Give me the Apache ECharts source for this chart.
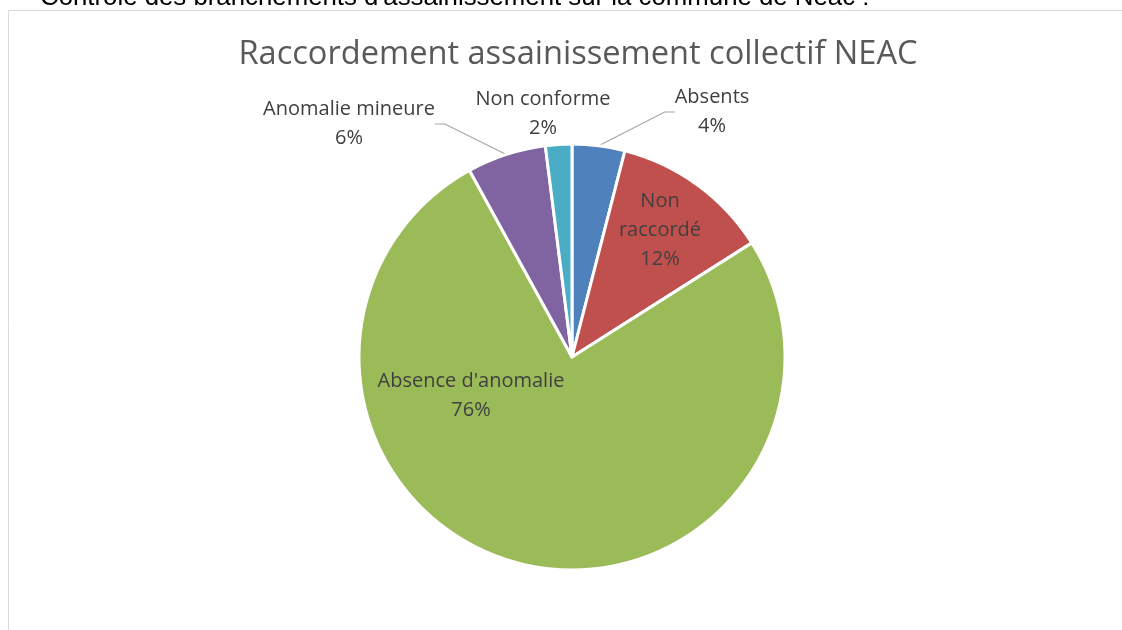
<!DOCTYPE html>
<html>
<head>
<meta charset="utf-8">
<script src="https://cdn.jsdelivr.net/npm/echarts@6/dist/echarts.min.js"></script>
<style>
  html, body { margin: 0; padding: 0; background: #fff; }
  #chart { width: 1122px; height: 630px; }
</style>
</head>
<body>
<div id="chart"></div>
<script>
  // données du graphique (pourcentages)
  const categories = ['Absents', 'Non raccordé', "Absence d'anomalie", 'Anomalie mineure', 'Non conforme']
  const values = [4, 12, 76, 6, 2]
  const colors = ['#4F81BD', '#C0504D', '#9BBB59', '#8064A2', '#4BACC6']

  // où poser chaque étiquette (centre du bloc de texte)
  const labelSpots = [
    [712, 112],
    [660, 230],
    [471, 396],
    [349, 124],
    [543, 114]
  ]
  const outside = [true, false, false, true, true]

  const chart = echarts.init(document.getElementById('chart'))

  chart.setOption({
    backgroundColor: '#fff',
    animation: false,
    title: {
      text: 'Raccordement assainissement collectif NEAC',
      left: 573,
      textAlign: 'center',
      top: 33,
      textStyle: {
        fontFamily: 'Open Sans',
        fontSize: 32.6,
        fontWeight: 'normal',
        color: '#595959'
      }
    },
    graphic: [
      {
        type: 'rect',
        shape: { x: 8.5, y: 10.5, width: 1200, height: 700 },
        style: { fill: 'none', stroke: '#d9d9d9', lineWidth: 1 },
        silent: true
      },
      {
        type: 'text',
        style: {
          x: 40,
          y: 11,
          text: "Contrôle des branchements d'assainissement sur la commune de Neac :",
          fontFamily: 'Liberation Sans',
          fontSize: 25.8,
          fill: '#000',
          verticalAlign: 'bottom'
        },
        silent: true
      }
    ],
    series: [
      {
        type: 'pie',
        center: [572, 357],
        radius: 213,
        startAngle: 90,
        clockwise: true,
        itemStyle: {
          borderColor: '#fff',
          borderWidth: 3
        },
        label: {
          show: true,
          formatter: p => p.name.replace('Non raccordé', 'Non\nraccordé') + '\n' + p.value + '%',
          fontFamily: 'Open Sans',
          fontSize: 20,
          lineHeight: 29,
          color: '#404040',
          align: 'center'
        },
        labelLine: {
          show: true,
          length: 10,
          length2: 10,
          lineStyle: { color: '#a6a6a6', width: 1.2 }
        },
        labelLayout: params => {
          const pos = labelSpots[params.dataIndex]
          return {
            x: pos[0],
            y: pos[1],
            align: 'center',
            verticalAlign: 'middle'
          }
        },
        data: categories.map((name, i) => ({
          name: name,
          value: values[i],
          itemStyle: { color: colors[i] },
          label: { position: outside[i] ? 'outside' : 'inside' },
          labelLine: { show: outside[i] && i !== 4 }
        }))
      }
    ]
  })
</script>
</body>
</html>
